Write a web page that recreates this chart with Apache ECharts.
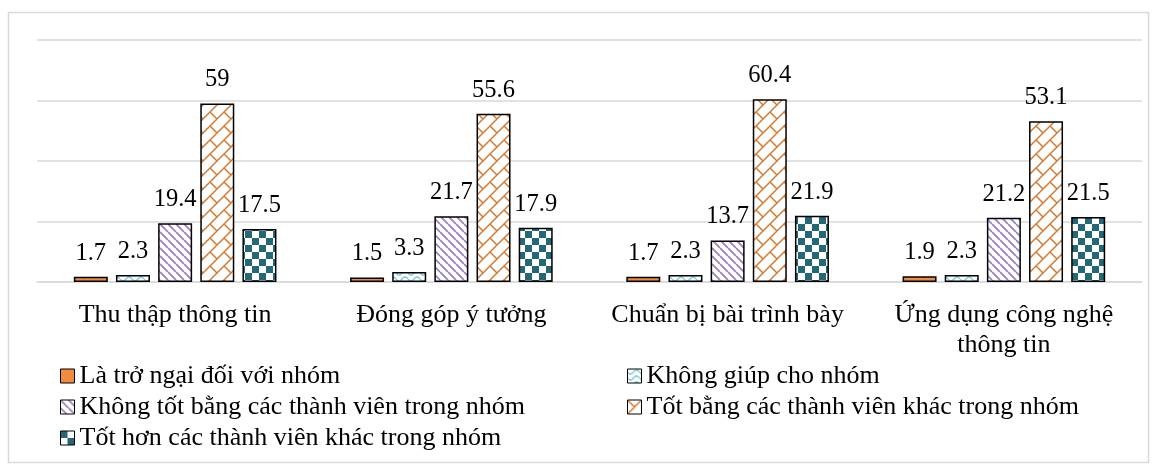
<!DOCTYPE html>
<html><head><meta charset="utf-8">
<script src="https://cdn.jsdelivr.net/npm/echarts@6/dist/echarts.min.js"></script>
<style>html,body{margin:0;padding:0;background:#fff}#c{width:1157px;height:472px}</style>
</head><body><div id="c"></div>
<script>
const categories = ['Thu thập thông tin', 'Đóng góp ý tưởng', 'Chuẩn bị bài trình bày', 'Ứng dụng công nghệ\nthông tin'];
const seriesNames = ['Là trở ngại đối với nhóm', 'Không giúp cho nhóm', 'Không tốt bằng các thành viên trong nhóm', 'Tốt bằng các thành viên khác trong nhóm', 'Tốt hơn các thành viên khác trong nhóm'];
const s1 = [1.7, 1.5, 1.7, 1.9];
const s2 = [2.3, 3.3, 2.3, 2.3];
const s3 = [19.4, 21.7, 13.7, 21.2];
const s4 = [59, 55.6, 60.4, 53.1];
const s5 = [17.5, 17.9, 21.9, 21.5];
const values = [s1, s2, s3, s4, s5];

function tile(w, h, draw) {
  const c = document.createElement('canvas');
  c.width = w; c.height = h;
  const g = c.getContext('2d');
  g.fillStyle = '#fff'; g.fillRect(0, 0, w, h);
  draw(g, w, h);
  return c;
}
const patOrange = tile(6, 6, (g) => { g.fillStyle = '#F08A3E'; g.fillRect(0,0,6,6); g.fillStyle='#F6A565'; g.fillRect(2,2,1,1); });
const patWave = tile(12, 6, (g, w, h) => {
  g.strokeStyle = '#7FCBE0'; g.lineWidth = 1.5; g.beginPath();
  for (let x = 0; x <= w; x += 0.5) { const y = 3 + 2 * Math.sin(x / w * 2 * Math.PI); if (x === 0) g.moveTo(x, y); else g.lineTo(x, y); }
  g.stroke();
});
const patStripe = tile(8, 8, (g) => {
  g.strokeStyle = '#9B82C2'; g.lineWidth = 1.8; g.beginPath();
  for (let k = -16; k <= 16; k += 8) { g.moveTo(k, 0); g.lineTo(k + 8, 8); }
  g.stroke();
});
const patBrick = tile(14, 14, (g) => {
  g.strokeStyle = '#D57A30'; g.lineWidth = 1.5;
  g.beginPath();
  g.moveTo(0, 14); g.lineTo(14, 0);
  g.moveTo(-14, 14); g.lineTo(14, -14);
  g.moveTo(0, 28); g.lineTo(28, 0);
  g.stroke();
  g.beginPath();
  [[0,0],[14,0],[0,14],[14,14]].forEach(([ox, oy]) => { g.moveTo(ox, oy); g.lineTo(ox + 7, oy + 7); g.moveTo(ox - 14, oy); g.lineTo(ox - 7, oy + 7); });
  g.stroke();
});
const patCheck = tile(14, 14, (g) => {
  g.fillStyle = '#246878'; g.fillRect(0, 0, 7, 7); g.fillRect(7, 7, 7, 7);
});
const pats = [patOrange, patWave, patStripe, patBrick, patCheck];

const FONT = '"Liberation Serif", "Times New Roman", "DejaVu Serif", serif';
const legendCommon = { orient: 'vertical', top: 363, padding: 0, itemGap: 5, itemWidth: 14, itemHeight: 14, icon: 'rect',
  textStyle: { fontFamily: FONT, fontSize: 26, lineHeight: 26, color: '#000' }, itemStyle: { borderColor: '#000', borderWidth: 1 } };
const chart = echarts.init(document.getElementById('c'));
chart.setOption({
  backgroundColor: '#fff',
  animation: false,
  textStyle: { fontFamily: FONT },
  graphic: [{ type: 'rect', shape: { x: 8.5, y: 12.5, width: 1140, height: 450 }, style: { fill: 'none', stroke: '#d9d9d9', lineWidth: 1.5 }, silent: true }],
  grid: { left: 37, right: 15, top: 40, bottom: 190 },
  legend: [
    Object.assign({ data: [seriesNames[0], seriesNames[2], seriesNames[4]], left: 60 }, legendCommon),
    Object.assign({ data: [seriesNames[1], seriesNames[3]], left: 627 }, legendCommon)
  ],
  xAxis: { type: 'category', data: categories, axisTick: { show: false },
    axisLine: { lineStyle: { color: '#d9d9d9', width: 1.5 } },
    axisLabel: { interval: 0, fontFamily: FONT, fontSize: 26, color: '#000', margin: 18, lineHeight: 30 } },
  yAxis: { type: 'value', min: 0, max: 80, interval: 20, axisLabel: { show: false }, axisLine: { show: false }, axisTick: { show: false },
    splitLine: { lineStyle: { color: '#d9d9d9', width: 1.5 } } },
  series: values.map((v, i) => ({
    name: seriesNames[i], type: 'bar', data: v, barWidth: 34, barGap: '24%',
    itemStyle: { color: { image: pats[i], repeat: 'repeat' }, borderColor: '#000', borderWidth: 1.5 },
    label: { show: true, position: 'top', distance: 11, fontFamily: FONT, fontSize: 24.5, color: '#000' }
  }))
});
</script></body></html>
